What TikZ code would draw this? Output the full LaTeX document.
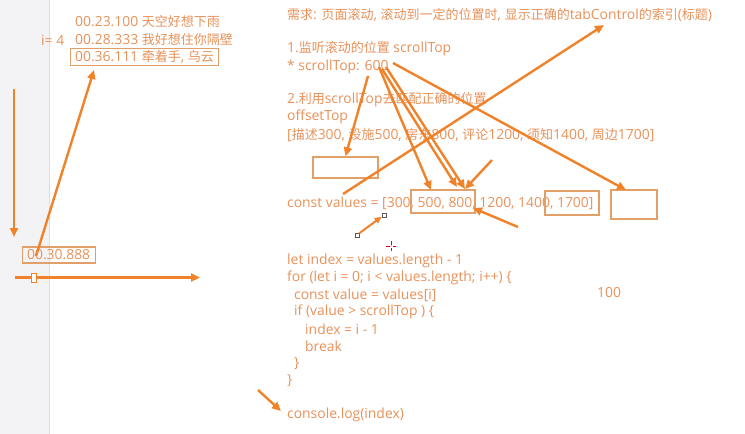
\documentclass[tikz,border=0pt]{standalone}
\usepackage{fontspec}
\setmainfont{Open Sans}
\newfontfamily\cjkf{Noto Sans CJK SC}
\newcommand\cj[1]{{\cjkf\fontsize{13}{15}\selectfont #1}}
\usetikzlibrary{arrows.meta}
\definecolor{txt}{HTML}{E8925A}
\definecolor{arr}{HTML}{F0822A}
\definecolor{bx}{HTML}{E2A068}
\definecolor{panel}{HTML}{F3F3F6}
\definecolor{panelline}{HTML}{DCDCE2}
\begin{document}
\begin{tikzpicture}[x=1pt,y=-1pt,
  t/.style={anchor=west,inner sep=0pt,text=txt,font=\fontsize{13.9}{15}\selectfont},
  ar/.style={draw=arr,line width=2.4pt,-{Triangle[length=9pt,width=8pt]}},
  bxs/.style={draw=bx,line width=1.3pt,inner sep=0pt},
  mk/.style={draw=gray!70!black,fill=white,line width=0.6pt,inner sep=0pt,minimum size=4pt}]
\useasboundingbox (0,0) rectangle (745,434);
\fill[white] (0,0) rectangle (745,434);
\fill[panel] (0,0) rectangle (48.5,434);
\draw[panelline,line width=0.8pt] (49,0) -- (49,434);

% top-left lyrics
\node[t] (l1) at (75,22) {00.23.100 \cj{天空好想下雨}};
\node[t] (iv) at (41,40) {i= 4};
\node[t] (l2) at (75,40) {00.28.333 \cj{我好想住你隔壁}};
\node[t,draw=bx,line width=1.3pt,inner xsep=5pt,inner ysep=2pt] (l3) at (69.5,57) {00.36.111 \cj{牵着手}, \cj{乌云}};
\node[t,draw=bx,line width=1.3pt,inner xsep=5pt,inner ysep=3pt] (l4) at (21.5,255) {00.30.888};

\coordinate (vtop) at (14,89);
\coordinate (vbot) at (14,237);
\draw[ar] (vtop) -- (vbot);
\coordinate (l4s) at (36,256);
\coordinate (l3t) at (94,70);
\draw[ar] (l4s) -- (l3t);
\coordinate (hl) at (15,277.5);
\coordinate (hr) at (200,277.5);
\draw[ar] (hl) -- (hr);
\node[draw=arr,line width=1pt,fill=white,inner sep=0pt,minimum width=5pt,minimum height=9pt] (hm) at (34,278) {};

% right text
\node[t] (title) at (287,15) {\cj{需求}: \cj{页面滚动}, \cj{滚动到一定的位置时}, \cj{显示正确的}tabControl\cj{的索引}(\cj{标题})};
\node[t] (s1) at (287,49) {1.\cj{监听滚动的位置} scrollTop};
\node[t] (s1b) at (287,67) {* scrollTop: 600};
\node[t] (s2) at (287,100) {2.\cj{利用}scrollTop\cj{去匹配正确的位置}};
\node[t] (s2b) at (287,117) {offsetTop};
\node[t] (s2c) at (287,135) {[\cj{描述}300, \cj{设施}500, \cj{房东}800, \cj{评论}1200, \cj{须知}1400, \cj{周边}1700]};
\node[t] (cv) at (287,203) {const values = [300, 500, 800, 1200, 1400, 1700]};

\node[bxs,minimum width=65pt,minimum height=21pt] (eb1) at (345.5,167.5) {};
\node[bxs,minimum width=64pt,minimum height=23pt] (b58) at (443,201.5) {};
\node[bxs,minimum width=54pt,minimum height=24pt] (b17) at (572,203) {};
\node[bxs,minimum width=46pt,minimum height=29pt] (eb2) at (634,204.5) {};

% code
\node[t] (c1) at (287,261) {let index = values.length - 1};
\node[t] (c2) at (287,278) {for (let i = 0; i < values.length; i++) \{};
\node[t] (c3) at (294,295) {const value = values[i]};
\node[t] (c4) at (294,312) {if (value > scrollTop ) \{};
\node[t] (c5) at (305,329) {index = i - 1};
\node[t] (c6) at (305,346) {break};
\node[t] (c7) at (294,364) {\}};
\node[t] (c8) at (287,381) {\}};
\node[t] (c9) at (287,415) {console.log(index)};
\node[t] (hund) at (597,293) {100};

% arrows from 600
\coordinate (p0) at (368,76);
\coordinate (p1) at (379,67);
\coordinate (p2) at (382,69);
\coordinate (p3) at (386,67);
\coordinate (p4) at (393,63);
\draw[ar] (p0) -- (eb1.north);
\coordinate (t1) at (431,190);
\coordinate (t2) at (457,187);
\coordinate (t3) at (465,189);
\draw[ar] (p1) -- (t1);
\draw[ar] (p2) -- (t2);
\draw[ar] (p3) -- (t3);
\coordinate (q1) at (492,160);
\draw[ar] (q1) -- (t3);
\coordinate (t4) at (626,190);
\draw[ar] (p4) -- (t4);
\coordinate (r0) at (343,194);
\coordinate (r1) at (604,25);
\draw[ar] (r0) -- (r1);
\coordinate (g0) at (518,227);
\coordinate (g1) at (473,208);
\draw[ar] (g0) -- (g1);

% small arrow with markers
\node[mk] (m1) at (357,235) {};
\node[mk] (m2) at (384,215) {};
\draw[draw=arr,line width=2pt,-{Triangle[length=7pt,width=6pt]}] (m1) -- (m2);

% cursor cross
\coordinate (cc) at (391,246);
\draw[draw=purple!60!red,line width=0.8pt] ([xshift=-5pt]cc) -- ([xshift=-1.5pt]cc) ([xshift=1.5pt]cc) -- ([xshift=5pt]cc)
  ([yshift=-5pt]cc) -- ([yshift=-1.5pt]cc) ([yshift=1.5pt]cc) -- ([yshift=5pt]cc);
\fill[purple!60!red] (cc) circle (0.7pt);

% console arrow
\coordinate (k0) at (258,390);
\coordinate (k1) at (281,411);
\draw[ar] (k0) -- (k1);
\end{tikzpicture}
\end{document}
